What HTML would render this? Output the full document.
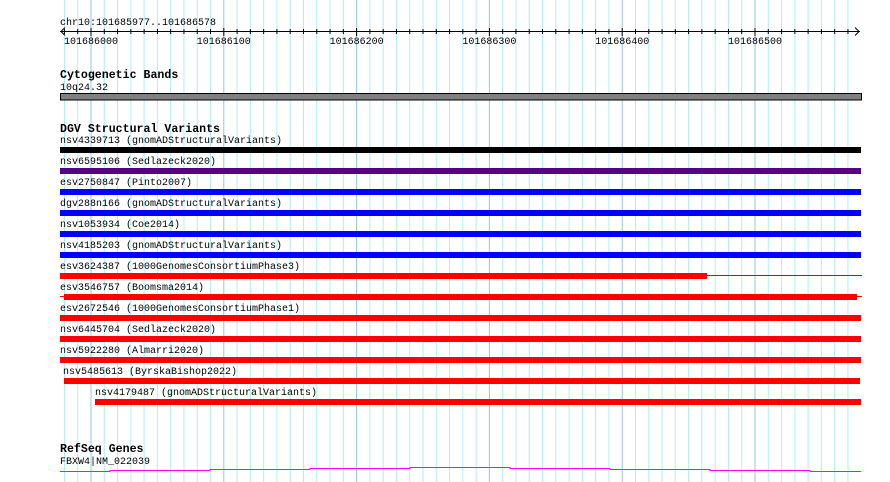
<!DOCTYPE html>
<html><head><meta charset="utf-8"><style>
html,body{margin:0;padding:0;background:#fff}
svg{display:block}
text{font-family:"Liberation Mono","DejaVu Sans Mono",monospace;font-size:10px;fill:#000}
.h{font-weight:bold;font-size:11.6px}
</style></head><body>
<svg width="890" height="482" viewBox="0 0 890 482" xmlns="http://www.w3.org/2000/svg">
<g id="grid"></g>
<!-- ruler -->
<text x="60" y="25">chr10:101685977..101686578</text>
<line x1="60" y1="31.5" x2="860" y2="31.5" stroke="#000"/>
<polyline points="65,27.5 61,31.5 65,35.5" fill="none" stroke="#000"/>
<polyline points="855,27.5 859,31.5 855,35.5" fill="none" stroke="#000"/>
<g id="ticks" stroke="#000"></g>
<text x="91" y="44" text-anchor="middle">101686000</text>
<text x="223.8" y="44" text-anchor="middle">101686100</text>
<text x="356.6" y="44" text-anchor="middle">101686200</text>
<text x="489.4" y="44" text-anchor="middle">101686300</text>
<text x="622.2" y="44" text-anchor="middle">101686400</text>
<text x="755" y="44" text-anchor="middle">101686500</text>
<!-- cytobands -->
<text class="h" x="60" y="78">Cytogenetic Bands</text>
<text x="60" y="90">10q24.32</text>
<rect x="60.5" y="93.5" width="801" height="6.5" fill="#808080" stroke="#000"/>
<!-- DGV -->
<text class="h" x="60" y="132">DGV Structural Variants</text>
<text x="60" y="143">nsv4339713 (gnomADStructuralVariants)</text>
<rect x="60" y="147" width="801" height="6" fill="#000"/>
<text x="60" y="164">nsv6595106 (Sedlazeck2020)</text>
<rect x="60" y="168" width="801" height="6" fill="#550088"/>
<text x="60" y="185">esv2750847 (Pinto2007)</text>
<rect x="60" y="189" width="801" height="6" fill="#0000ff"/>
<text x="60" y="206">dgv288n166 (gnomADStructuralVariants)</text>
<rect x="60" y="210" width="801" height="6" fill="#0000ff"/>
<text x="60" y="227">nsv1053934 (Coe2014)</text>
<rect x="60" y="231" width="801" height="6" fill="#0000ff"/>
<text x="60" y="248">nsv4185203 (gnomADStructuralVariants)</text>
<rect x="60" y="252" width="801" height="6" fill="#0000ff"/>
<text x="60" y="269">esv3624387 (1000GenomesConsortiumPhase3)</text>
<rect x="60" y="273" width="647" height="6" fill="#ff0000"/>
<line x1="707" y1="275.5" x2="862" y2="275.5" stroke="#dd0000"/>
<text x="60" y="290">esv3546757 (Boomsma2014)</text>
<line x1="60" y1="296.5" x2="862" y2="296.5" stroke="#ff0000"/>
<rect x="64" y="294" width="793" height="6" fill="#ff0000"/>
<text x="60" y="311">esv2672546 (1000GenomesConsortiumPhase1)</text>
<rect x="60" y="315" width="801" height="6" fill="#ff0000"/>
<text x="60" y="332">nsv6445704 (Sedlazeck2020)</text>
<rect x="60" y="336" width="801" height="6" fill="#ff0000"/>
<text x="60" y="353">nsv5922280 (Almarri2020)</text>
<rect x="60" y="357" width="801" height="6" fill="#ff0000"/>
<text x="63" y="374">nsv5485613 (ByrskaBishop2022)</text>
<rect x="64" y="378" width="796" height="6" fill="#ff0000"/>
<text x="95" y="395">nsv4179487 (gnomADStructuralVariants)</text>
<rect x="95" y="399" width="766" height="6" fill="#ff0000"/>
<!-- RefSeq -->
<text class="h" x="60" y="452">RefSeq Genes</text>
<text x="60" y="464">FBXW4|NM_022039</text>
<polyline fill="none" stroke="#ff00ff" stroke-width="1" points="60,471.5 110,471.5 110,470.5 210,470.5 210,469.5 310,469.5 310,468.5 410,468.5 410,467.5 510,467.5 510,468.5 610,468.5 610,469.5 710,469.5 710,470.5 810,470.5 810,471.5 861,471.5"/>
<script>
var g=document.getElementById('grid'),t=document.getElementById('ticks'),ns='http://www.w3.org/2000/svg';
for(var k=-2;k<=57;k++){var x=91+13.28*k;
var l=document.createElementNS(ns,'line');l.setAttribute('x1',x);l.setAttribute('x2',x);l.setAttribute('y1',0);l.setAttribute('y2',482);
l.setAttribute('stroke',k%10==0?'#90c8e0':'#b0eef2');l.setAttribute('stroke-width',1);g.appendChild(l);
var m=document.createElementNS(ns,'line');m.setAttribute('x1',x);m.setAttribute('x2',x);m.setAttribute('y1',k%10==0?28:29);m.setAttribute('y2',k%10==0?36:34);t.appendChild(m);}
</script>
</svg>
</body></html>
